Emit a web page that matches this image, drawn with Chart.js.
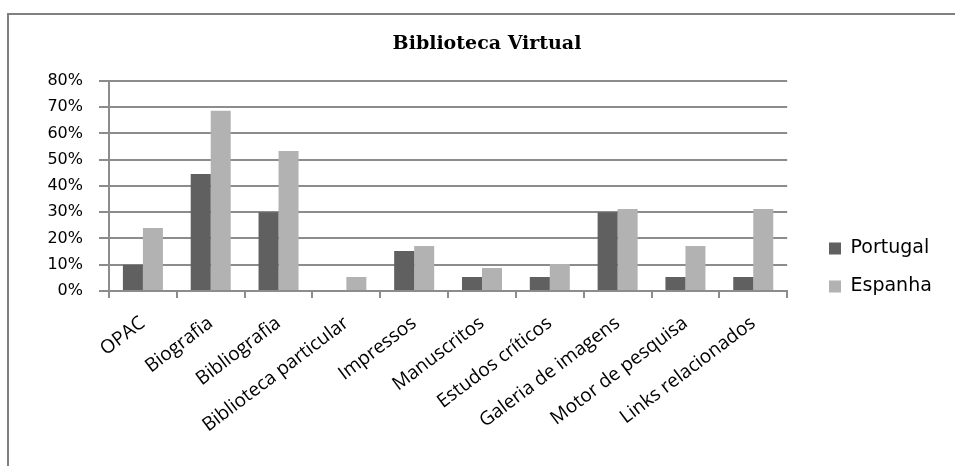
<!DOCTYPE html>
<html>
<head>
<meta charset="utf-8">
<script src="https://cdn.jsdelivr.net/npm/chart.js@4"></script>
<style>
  html, body { margin: 0; padding: 0; background: #fff; overflow: hidden; }
  .frame { position: absolute; left: 7px; top: 13px; width: 960px; height: 470px;
           border-left: 2px solid #808080; border-top: 2px solid #808080; }
  .wrap { position: absolute; left: 0; top: 0; width: 955px; height: 466px; }
</style>
</head>
<body>
<div class="frame"></div>
<div class="wrap"><canvas id="chart" width="955" height="466"></canvas></div>
<script>
  // Chart data (percent)
  const categories = [
    'OPAC', 'Biografia', 'Bibliografia', 'Biblioteca particular', 'Impressos',
    'Manuscritos', 'Estudos críticos', 'Galeria de imagens', 'Motor de pesquisa', 'Links relacionados'
  ];
  const portugal = [10, 44.5, 30, 0, 15.2, 5.3, 5.3, 30, 5.3, 5.3];
  const espanha = [24, 68.6, 53.3, 5.3, 17.1, 8.8, 10.3, 31.2, 17.1, 31.2];
  const yTicks = [0, 10, 20, 30, 40, 50, 60, 70, 80];

  const gridColor = '#8c8c8c';

  // Put legend next to the lower part of the plot and centre the title over it, as in the original
  const boxPlace = {
    id: 'boxPlace',
    afterLayout(chart) {
      const lg = chart.legend;
      if (lg) {
        const dx = 810 - lg.left;
        const dy = 220 - lg.top;
        lg.left += dx; lg.right += dx;
        lg.top += dy; lg.bottom += dy;
      }
      const tb = chart.titleBlock;
      if (tb) {
        const shift = 487 - (tb.left + tb.right) / 2;
        tb.left += shift; tb.right += shift;
      }
    }
  };

  new Chart(document.getElementById('chart'), {
    type: 'bar',
    data: {
      labels: categories,
      datasets: [
        { label: 'Portugal', data: portugal, backgroundColor: '#606060', borderWidth: 0 },
        { label: 'Espanha', data: espanha, backgroundColor: '#b2b2b2', borderWidth: 0 }
      ]
    },
    options: {
      responsive: false,
      animation: false,
      events: [],
      layout: { padding: { top: 33, left: 9, right: 36, bottom: 0 } },
      datasets: { bar: { categoryPercentage: 0.59, barPercentage: 1 } },
      plugins: {
        title: {
          display: true,
          text: 'Biblioteca Virtual',
          color: '#000',
          font: { family: 'DejaVu Serif', size: 19, weight: 'bold' },
          padding: { top: 0, bottom: 25 }
        },
        legend: {
          position: 'right',
          align: 'start',
          labels: {
            color: '#000',
            boxWidth: 12,
            boxHeight: 12,
            padding: 19,
            font: { family: 'DejaVu Sans', size: 19 }
          }
        },
        tooltip: { enabled: false }
      },
      scales: {
        x: {
          offset: true,
          grid: { offset: true, drawOnChartArea: false, drawTicks: true, tickLength: 7, color: gridColor, lineWidth: 2 },
          border: { display: true, color: gridColor, width: 2 },
          ticks: {
            color: '#000',
            minRotation: 37,
            maxRotation: 37,
            padding: 14,
            autoSkip: false,
            font: { family: 'Open Sans', size: 19 }
          },
          afterFit: (scale) => { scale.height = 175; }
        },
        y: {
          min: 0,
          max: yTicks[yTicks.length - 1],
          afterBuildTicks: (scale) => { scale.ticks = yTicks.map((v) => ({ value: v })); },
          grid: { color: gridColor, lineWidth: 2, drawTicks: true, tickLength: 10 },
          border: { display: true, color: gridColor, width: 2 },
          ticks: {
            color: '#000',
            padding: 16,
            font: { family: 'DejaVu Sans', size: 16 },
            callback: (v) => v + '%'
          },
          afterFit: (scale) => { scale.width = 100; }
        }
      }
    },
    plugins: [boxPlace]
  });
</script>
</body>
</html>
